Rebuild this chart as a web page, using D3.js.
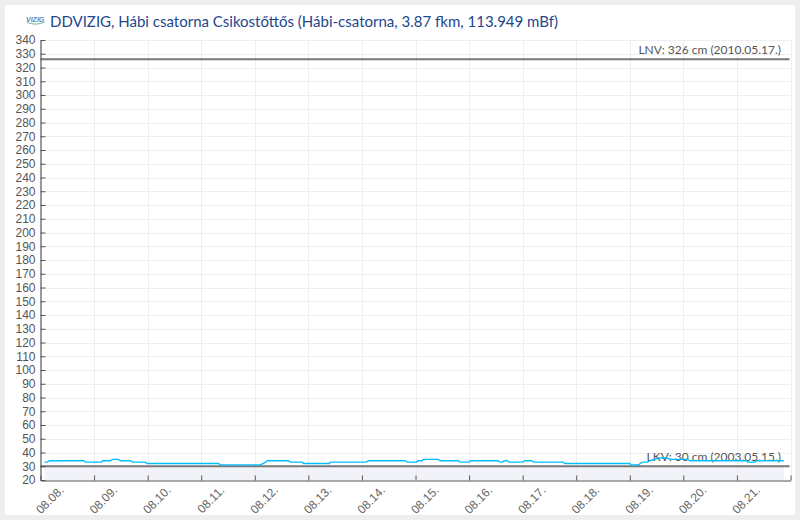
<!DOCTYPE html>
<html><head><meta charset="utf-8">
<script src="https://cdn.jsdelivr.net/npm/d3@7"></script>
<style>
html,body{margin:0;padding:0;background:#eee;overflow:hidden}
svg{display:block}
</style></head><body>
<svg id="c" width="800" height="520"></svg>
<script>
const titleText = "DDVIZIG, Hábi csatorna Csikostőttős (Hábi-csatorna, 3.87 fkm, 113.949 mBf)";
const logoText = "VIZIG";
const dayLabels = ["08.08.","08.09.","08.10.","08.11.","08.12.","08.13.","08.14.","08.15.","08.16.","08.17.","08.18.","08.19.","08.20.","08.21."];
const hours = [1.8,3.1,4,19.3,20.2,27.3,27.8,31.3,32.2,34.9,35.8,40.3,41.2,47,47.9,79.7,80.6,98.5,99.9,100.8,101.7,111,112,117.3,117.8,129.4,129.9,146,146.9,163.4,164.3,168.4,169.3,171,171.5,178.2,179.1,187.2,188,192,192.6,205,206,207,207.8,209,210,216,217,220,221,234,235,264,264.6,268,268.7,269.6,272,273,275,277,280,283,290,291,316,317,320,321,333];
const levels = [33,33,34,34,33,33,34,34,35,35,34,34,33,33,32,32,31,31,32,33,34,34,33,33,32,32,33,33,34,34,33,33,34,34,35,35,34,34,33,33,34,34,33,33,34,34,33,33,34,34,33,33,32,32,31,31,32,33,33,34,35,36,36,35,35,34,34,33,33,34,34];
const lnvValue = 326, lnvLabel = "LNV: 326 cm (2010.05.17.)";
const lkvValue = 30, lkvLabel = "LKV: 30 cm (2003.05.15.)";
const yMin = 20, yMax = 340, yStep = 10, dayCount = 14;

const svg = d3.select("#c");
svg.append("rect").attr("x",5).attr("y",5).attr("width",790).attr("height",510).attr("fill","#fff");

const plotLeft=40.5,plotRight=790.5,plotTop=40,plotBottom=480;
const x = d3.scaleLinear().domain([0,dayCount*24]).range([plotLeft,plotRight]);
const y = d3.scaleLinear().domain([yMin,yMax]).range([plotBottom,plotTop]);
const yTicks = d3.range(yMin,yMax+1,yStep);
const xTicks = d3.range(0,dayCount+1).map(d=>d*24);

// band under LKV
svg.append("rect").attr("x",x(hours[0])).attr("width",x(hours[hours.length-1])-x(hours[0]))
  .attr("y",y(lkvValue)).attr("height",y(yMin)-y(lkvValue)).attr("fill","#f2f3f8");

// grid
const grid = svg.append("g").attr("stroke","#eeeeee").attr("stroke-width",1);
grid.selectAll("line.h").data(yTicks.slice(1)).join("line").attr("class","h")
  .attr("x1",plotLeft).attr("x2",plotRight).attr("y1",d=>Math.round(y(d))+.5).attr("y2",d=>Math.round(y(d))+.5);
grid.selectAll("line.v").data(xTicks.slice(1)).join("line").attr("class","v")
  .attr("y1",plotTop).attr("y2",plotBottom).attr("x1",d=>Math.round(x(d))+.5).attr("x2",d=>Math.round(x(d))+.5);

// logo
svg.append("text").attr("x",26).attr("y",21.5).attr("font-family","Liberation Sans").attr("font-size",7)
  .attr("font-weight","bold").attr("font-style","italic").attr("fill","#5b86b8").text(logoText);
svg.append("path").attr("d",d3.line().curve(d3.curveBasis)([[27,22.5],[36,25],[45,22]])).attr("fill","none").attr("stroke","#6cb59a").attr("stroke-width",1);

// title
svg.append("text").attr("x",50).attr("y",26.5).attr("font-family","Lato").attr("font-size",15)
  .attr("fill","#23478c").text(titleText);

// annotation labels (below lines)
const lab = svg.append("g").attr("font-family","Lato").attr("font-size",12).attr("fill","#555").attr("text-anchor","end");
lab.append("text").attr("x",781).attr("y",y(lnvValue)-5).text(lnvLabel);
lab.append("text").attr("x",781).attr("y",y(lkvValue)-5).text(lkvLabel);

// reference lines
[lnvValue,lkvValue].forEach(v=>svg.append("line").attr("x1",plotLeft).attr("x2",plotRight-1).attr("y1",y(v)).attr("y2",y(v))
  .attr("stroke","#777").attr("stroke-width",2));

// series
svg.append("path").attr("fill","none").attr("stroke","#00bfff").attr("stroke-width",1.4)
  .attr("d",d3.line().x((d,i)=>x(hours[i])).y(d=>y(d))(levels));

// axes
const yAxis = svg.append("g").attr("transform",`translate(${plotLeft},0)`)
  .call(d3.axisLeft(y).tickValues(yTicks).tickSizeInner(-5).tickSizeOuter(0).tickPadding(5).tickFormat(d3.format("d")));
const xAxis = svg.append("g").attr("transform",`translate(0,${plotBottom+.5})`)
  .call(d3.axisBottom(x).tickValues(xTicks).tickSizeInner(-5).tickSizeOuter(0).tickFormat(""));
[yAxis,xAxis].forEach(a=>{a.selectAll("path,line").attr("stroke","#555");a.select(".domain").attr("stroke-width",1.2);});
yAxis.selectAll("text").attr("font-family","Liberation Sans").attr("font-size",12).attr("fill","#555");
svg.append("g").selectAll("text").data(dayLabels).join("text")
  .attr("text-anchor","end").attr("font-family","Liberation Sans").attr("font-size",12).attr("fill","#666")
  .attr("transform",(d,i)=>`translate(${x(i*24)+24},${plotBottom+11}) rotate(-45)`).text(d=>d);
</script>
</body></html>
